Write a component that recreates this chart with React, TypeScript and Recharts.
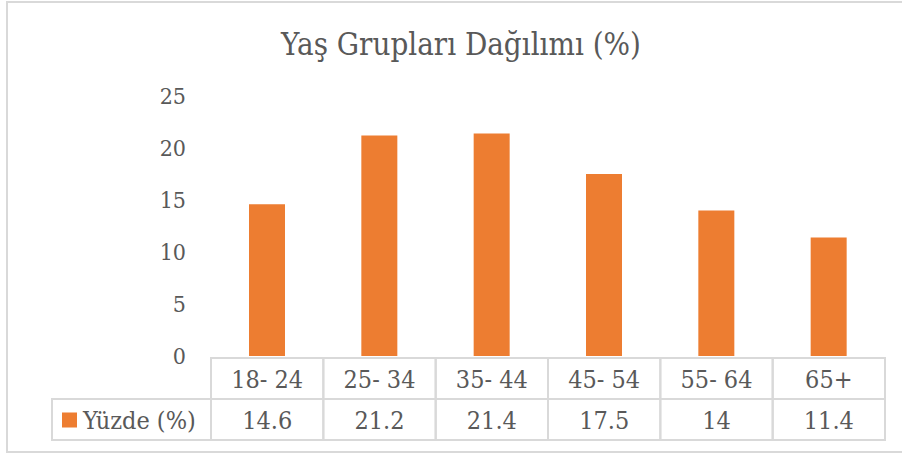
import { BarChart, Bar, XAxis, YAxis } from "recharts";

const AGE_GROUPS = ["18- 24", "25- 34", "35- 44", "45- 54", "55- 64", "65+"];
const PERCENTAGES = [14.6, 21.2, 21.4, 17.5, 14, 11.4];
const Y_TICKS = [0, 5, 10, 15, 20, 25];
const SERIES_NAME = "Yüzde (%)";

const data = AGE_GROUPS.map((group, i) => ({ group, value: PERCENTAGES[i] }));

const WIDTH = 902;
const HEIGHT = 454;
const MARGIN = { top: 96, right: 17, bottom: 0, left: 151 };
const Y_AXIS_W = 60;
const BAND = (WIDTH - MARGIN.left - Y_AXIS_W - MARGIN.right) / AGE_GROUPS.length;

const ORANGE = "#ED7D31";
const TEXT = "#595959";
const GRID = "#D9D9D9";
const FONT = "DejaVu Serif Condensed, DejaVu Serif";
const ROW_H = 41;

// x-axis tick drawn as a cell of the data table under the plot
function TableTick(props: any) {
  const { x, y, payload, index } = props;
  const left = x - BAND / 2;
  const value = PERCENTAGES[index];
  return (
    <g>
      <rect x={left} y={y} width={BAND} height={ROW_H * 2} fill="none" stroke={GRID} strokeWidth={2} />
      <line x1={left} x2={left + BAND} y1={y + ROW_H} y2={y + ROW_H} stroke={GRID} strokeWidth={2} />
      <text x={x} y={y + ROW_H / 2 + 9} textAnchor="middle" fill={TEXT} fontSize={25} fontFamily={FONT}>
        {payload.value}
      </text>
      <text x={x} y={y + ROW_H * 1.5 + 9} textAnchor="middle" fill={TEXT} fontSize={25} fontFamily={FONT}>
        {value}
      </text>
      {index === 0 && (
        <g>
          <rect x={52} y={y + ROW_H} width={left - 52} height={ROW_H} fill="none" stroke={GRID} strokeWidth={2} />
          <rect x={62} y={y + ROW_H * 1.5 - 7} width={15} height={15} fill={ORANGE} />
          <text x={83} y={y + ROW_H * 1.5 + 9} fill={TEXT} fontSize={25} fontFamily={FONT}>
            {SERIES_NAME}
          </text>
        </g>
      )}
    </g>
  );
}

export default function App() {
  return (
    <div style={{ position: "absolute", left: 0, top: 0, width: WIDTH, height: HEIGHT, background: "#fff" }}>
      <div
        style={{
          position: "absolute",
          left: 6,
          top: 1,
          width: WIDTH,
          height: 452,
          borderLeft: `2px solid ${GRID}`,
          borderTop: `2px solid ${GRID}`,
          borderBottom: `2px solid ${GRID}`,
          boxSizing: "border-box",
        }}
      />
      <div
        style={{
          position: "absolute",
          left: 0,
          top: 24,
          width: 922,
          textAlign: "center",
          fontFamily: FONT,
          fontSize: 31,
          lineHeight: "40px",
          color: TEXT,
        }}
      >
        Yaş Grupları Dağılımı (%)
      </div>
      <div style={{ position: "absolute", left: 0, top: 0 }}>
        <BarChart width={WIDTH} height={HEIGHT} data={data} margin={MARGIN}>
          <YAxis
            width={Y_AXIS_W}
            domain={[0, 25]}
            ticks={Y_TICKS}
            axisLine={false}
            tickLine={false}
            tickSize={0}
            tickMargin={25}
            tick={{ fill: TEXT, fontSize: 23, fontFamily: FONT }}
          />
          <XAxis
            dataKey="group"
            height={98}
            axisLine={false}
            tickLine={false}
            tickSize={0}
            tickMargin={2}
            interval={0}
            tick={<TableTick />}
          />
          <Bar dataKey="value" fill={ORANGE} barSize={36} isAnimationActive={false} />
        </BarChart>
      </div>
    </div>
  );
}
